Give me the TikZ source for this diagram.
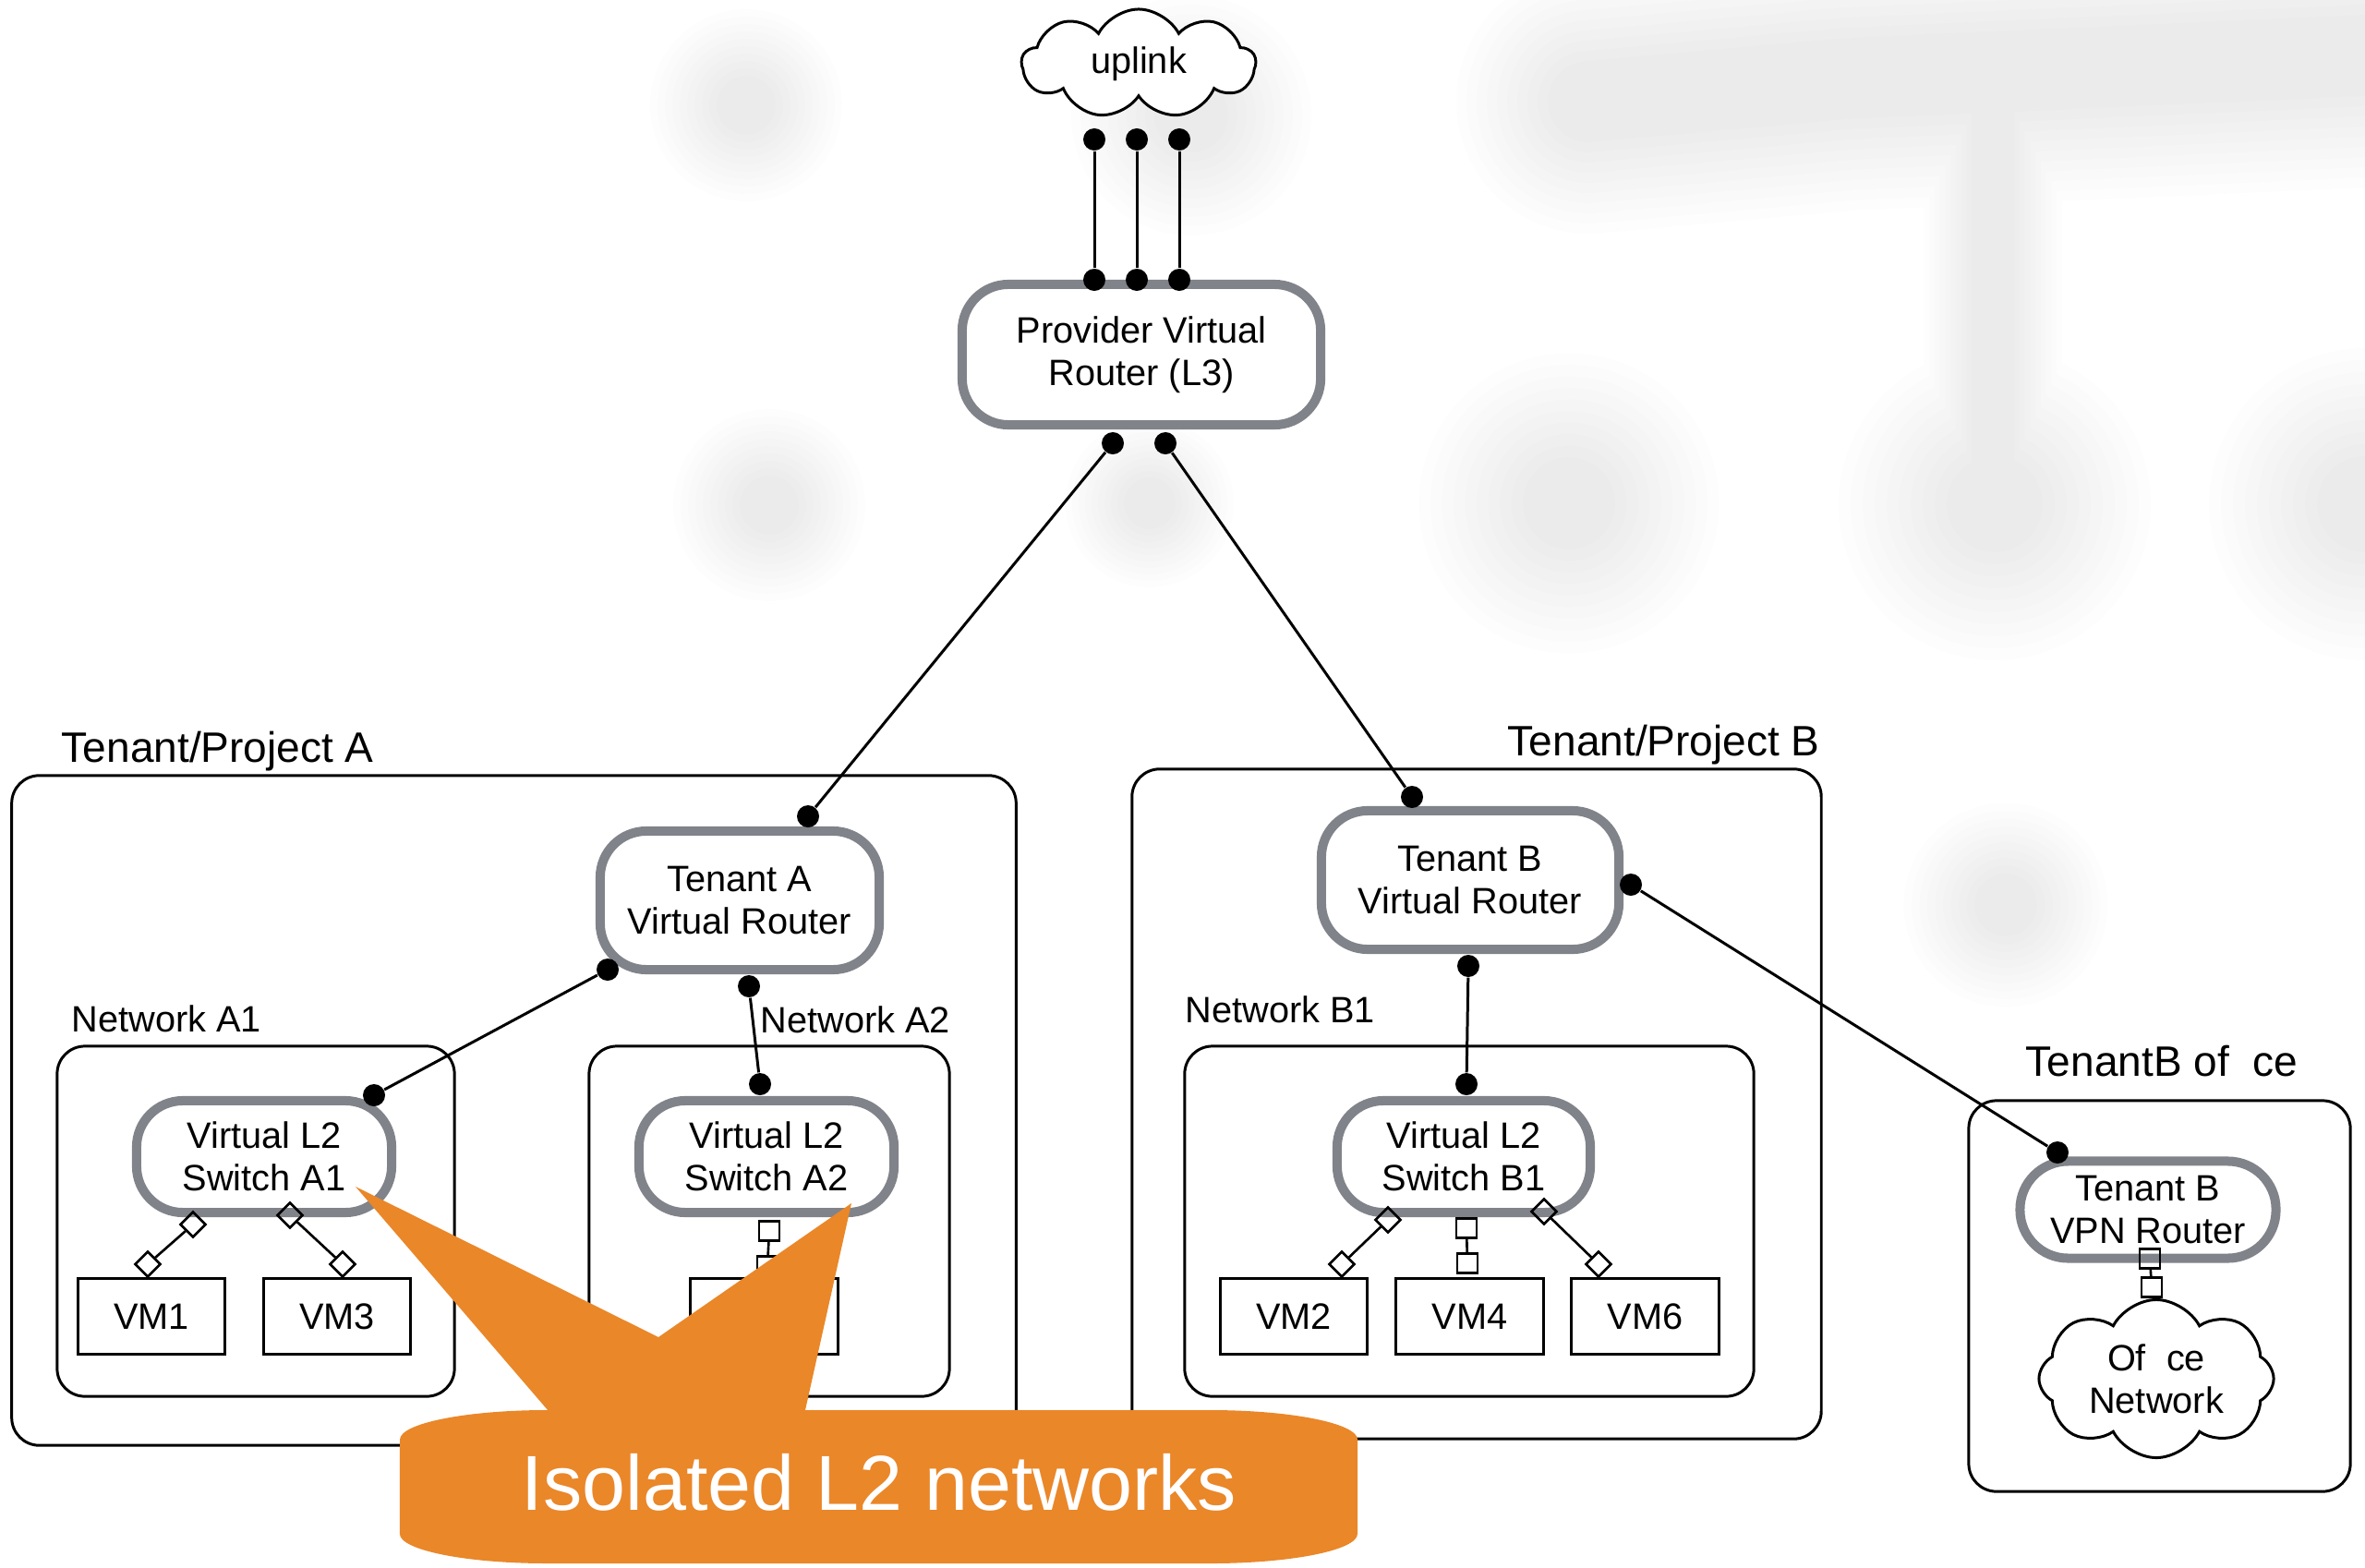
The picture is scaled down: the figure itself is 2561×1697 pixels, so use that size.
\documentclass[tikz,border=0pt]{standalone}
\usepackage{fontspec}
\setmainfont{Liberation Sans}
\usetikzlibrary{shapes.geometric,shapes.symbols}
\definecolor{rgray}{RGB}{128,131,137}
\definecolor{corange}{RGB}{234,135,41}
\newcommand\ndfont{\fontsize{11.3}{13.1}\selectfont}
\newcommand\lbfont{\fontsize{13.1}{15}\selectfont}
\tikzset{
 router/.style={draw=rgray, line width=2.85pt, rounded corners=0.5cm, fill=white, align=center, font=\ndfont, inner sep=0pt},
 grp/.style={draw=black, line width=0.85pt, rounded corners=0.3cm, inner sep=0pt},
 vm/.style={draw, line width=0.85pt, fill=white, inner sep=0pt, minimum width=1.59cm, minimum height=0.82cm, font=\ndfont},
 dot/.style={circle, fill=black, inner sep=0pt, minimum size=0.24cm},
 dia/.style={diamond, draw, line width=0.75pt, inner sep=0pt, minimum width=0.28cm, minimum height=0.28cm},
 sq/.style={rectangle, draw, line width=0.75pt, inner sep=0pt, minimum width=0.22cm, minimum height=0.21cm},
 link/.style={line width=0.85pt},
 slink/.style={line width=0.75pt},
 grplabel/.style={anchor=base west, inner sep=0pt, font=\lbfont},
 netlabel/.style={anchor=base west, inner sep=0pt, font=\ndfont},
 cloudnode/.style={cloud, cloud puffs=9, cloud puff arc=125, cloud ignores aspect, draw, line width=0.85pt, fill=white, inner sep=0pt, align=center, font=\ndfont},
}
\begin{document}
\begin{tikzpicture}[x=0.01cm,y=-0.01cm]
\useasboundingbox (0,0) rectangle (2561,1697);
% faint background watermark: soft-edged union, built from layers
\foreach \k in {0,...,9}{
  \pgfmathsetmacro\fk{0.4+0.1*\k}
  \begin{scope}[transparency group, opacity=0.0075]
    \foreach \bx/\by/\br in {808/114/80, 833/547/80, 1290/125/100, 1245/545/70, 1699/545/125, 2160/546/130, 2561/546/130, 2172/980/85}{
      \pgfmathsetmacro\rr{\br*\fk*0.01}
      \fill[black] (\bx,\by) circle [radius=\rr cm];
    }
    \pgfmathsetmacro\ww{220*\fk*0.01}
    \draw[black, line width=\ww cm, line cap=round] (1720,110) -- (2000,85) -- (2561,60);
    \pgfmathsetmacro\wv{115*\fk*0.01}
    \draw[black, line width=\wv cm, line cap=round] (2158,120) -- (2158,540);
  \end{scope}
}

% group boxes
\node[grp, minimum width=10.87cm, minimum height=7.25cm] (tA) at (556.5,1202.5) {};
\node[grp, minimum width=7.46cm, minimum height=7.25cm] (tB) at (1599,1195.5) {};
\node[grp, minimum width=4.13cm, minimum height=4.23cm] (off) at (2338.5,1403.5) {};
\node[grp, minimum width=4.30cm, minimum height=3.79cm] (nA1) at (277,1322.5) {};
\node[grp, minimum width=3.90cm, minimum height=3.79cm] (nA2) at (833,1322.5) {};
\node[grp, minimum width=6.16cm, minimum height=3.79cm] (nB1) at (1591,1322.5) {};

% labels
\node[grplabel] (lA) at (66,825) {Tenant/Project A};
\node[grplabel] (lB) at (1632,818) {Tenant/Project B};
\node[grplabel] (lOff) at (2193,1165) {TenantB of\ \ ce};
\node[netlabel] (lA1) at (77,1117) {Network A1};
\node[netlabel] (lA2) at (823,1118) {Network A2};
\node[netlabel] (lB1) at (1283,1107) {Network B1};

% routers and switches
\node[router, minimum width=3.88cm, minimum height=1.52cm] (prov) at (1236,384) {Provider Virtual\\Router (L3)};
\node[router, minimum width=3.02cm, minimum height=1.50cm] (rA) at (801,975) {Tenant A\\Virtual Router};
\node[router, minimum width=3.22cm, minimum height=1.50cm] (rB) at (1592,953) {Tenant B\\Virtual Router};
\node[router, minimum width=2.76cm, minimum height=1.21cm] (sA1) at (286,1252.5) {Virtual L2\\Switch A1};
\node[router, minimum width=2.76cm, minimum height=1.21cm] (sA2) at (830,1252.5) {Virtual L2\\Switch A2};
\node[router, minimum width=2.74cm, minimum height=1.21cm] (sB1) at (1585,1252.5) {Virtual L2\\Switch B1};
\node[router, rounded corners=0.52cm, minimum width=2.77cm, minimum height=1.05cm] (vpn) at (2326,1310) {Tenant B\\VPN Router};

% clouds
\node[cloudnode, minimum width=2.53cm, minimum height=1.18cm] (up) at (1233,69) {uplink};
\node[cloudnode, cloud puffs=8, minimum width=2.54cm, minimum height=1.71cm] (ocl) at (2335,1493) {Of\ \ ce\\Network};

% VMs
\node[vm] (vm1) at (164,1425.5) {VM1};
\node[vm] (vm3) at (365,1425.5) {VM3};
\node[vm] (vm5) at (827.5,1425.5) {};
\node[vm] (vm2) at (1401,1425.5) {VM2};
\node[vm] (vm4) at (1591.5,1425.5) {VM4};
\node[vm] (vm6) at (1781.5,1425.5) {VM6};

% connection dots
\node[dot] (u1) at (1185,151) {};
\node[dot] (u2) at (1231,151) {};
\node[dot] (u3) at (1277,151) {};
\node[dot] (p1) at (1185,303) {};
\node[dot] (p2) at (1231,303) {};
\node[dot] (p3) at (1277,303) {};
\node[dot] (pb1) at (1205,480) {};
\node[dot] (pb2) at (1262,480) {};
\node[dot] (at) at (875,884) {};
\node[dot] (al) at (658,1050) {};
\node[dot] (ab) at (811,1068) {};
\node[dot] (sa1) at (405,1186) {};
\node[dot] (sa2) at (823,1174) {};
\node[dot] (bt) at (1529,863) {};
\node[dot] (br) at (1766,958) {};
\node[dot] (bb) at (1590,1046) {};
\node[dot] (sb1) at (1588,1174) {};
\node[dot] (vd) at (2228,1248) {};

\draw[link] (u1) -- (p1);
\draw[link] (u2) -- (p2);
\draw[link] (u3) -- (p3);
\draw[link] (pb1) -- (at);
\draw[link] (pb2) -- (bt);
\draw[link] (al) -- (sa1);
\draw[link] (ab) -- (sa2);
\draw[link] (bb) -- (sb1);
\draw[link] (br) -- (vd);

% diamonds
\node[dia] (dA1s) at (209,1326) {};
\node[dia] (dA1v) at (160,1369) {};
\node[dia] (dA3s) at (314,1316) {};
\node[dia] (dA3v) at (371,1369) {};
\node[dia] (dB2s) at (1503,1321) {};
\node[dia] (dB2v) at (1453,1369) {};
\node[dia] (dB6s) at (1672,1312) {};
\node[dia] (dB6v) at (1731,1369) {};
\draw[slink] (dA1s) -- (dA1v);
\draw[slink] (dA3s) -- (dA3v);
\draw[slink] (dB2s) -- (dB2v);
\draw[slink] (dB6s) -- (dB6v);

% squares
\node[sq] (qA5s) at (833,1333) {};
\node[sq] (qA5v) at (831,1371) {};
\node[sq] (qB4s) at (1588,1330) {};
\node[sq] (qB4v) at (1589,1368) {};
\node[sq] (qVs) at (2328,1363) {};
\node[sq] (qVc) at (2330,1394) {};
\draw[slink] (qA5s) -- (qA5v);
\draw[slink] (qB4s) -- (qB4v);
\draw[slink] (qVs) -- (qVc);

% callout
\fill[corange] (433,1559) arc[start angle=180, end angle=90, x radius=1.6cm, y radius=0.32cm]
  -- (385,1285) -- (713,1448) -- (922,1303) -- (872,1527) -- (1310,1527)
  arc[start angle=90, end angle=0, x radius=1.6cm, y radius=0.32cm]
  -- (1470,1661) arc[start angle=0, end angle=-90, x radius=1.6cm, y radius=0.32cm]
  -- (593,1693) arc[start angle=270, end angle=180, x radius=1.6cm, y radius=0.32cm] -- cycle;
\node[font=\fontsize{24}{28}\selectfont, text=white, anchor=base, inner sep=0pt] (callt) at (952,1635) {Isolated L2 networks};
\end{tikzpicture}
\end{document}
